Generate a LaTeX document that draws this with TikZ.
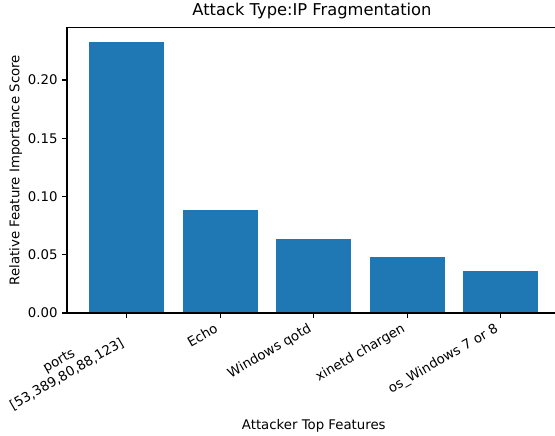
\documentclass[tikz,border=0pt]{standalone}
\usepackage{fontspec}
\setmainfont{DejaVu Sans}
\usepackage{graphicx}
\definecolor{barblue}{HTML}{1F77B4}
\tikzset{
  barfill/.style={fill=barblue, draw=none},
  spine/.style={draw=black, line width=1.05pt, line cap=rect},
  tickmark/.style={draw=black, line width=1.05pt},
  ticklab/.style={inner sep=0pt, font=\fontsize{13.3}{15.8}\selectfont},
  axlab/.style={inner sep=0pt, font=\fontsize{13.3}{15.8}\selectfont},
  titlelab/.style={inner sep=0pt, font=\fontsize{16.3}{19.5}\selectfont},
}
\newcommand{\xlab}[1]{\rotatebox{30}{\hbox{\vphantom{lp}#1}}}
\begin{document}
\begin{tikzpicture}[x=1pt,y=-1pt]
\useasboundingbox (0,0) rectangle (555,436);
% bars
\fill[barfill] (89.4,313) rectangle (164.2,42);
\fill[barfill] (182.9,313) rectangle (257.7,210);
\fill[barfill] (276.4,313) rectangle (351.2,239);
\fill[barfill] (369.9,313) rectangle (444.7,257);
\fill[barfill] (463.4,313) rectangle (538.2,271);
% spines
\coordinate (tl) at (67,27.5);
\coordinate (bl) at (67,313);
\coordinate (br) at (556,313);
\coordinate (tr) at (556,27.5);
\draw[spine] (tr) -- (tl) -- (bl) -- (br);
% y ticks
\foreach \v/\y [count=\i] in {0.00/313,0.05/254.75,0.10/196.5,0.15/138.25,0.20/80}{
  \coordinate (yt\i) at (67,\y);
  \coordinate (yte\i) at (62.4,\y);
  \draw[tickmark] (yt\i) -- (yte\i);
  \node[ticklab, anchor=east] (ylab\i) at (57.8,\y) {\v};
}
% x ticks
\foreach \x [count=\i] in {126.8,220.3,313.8,407.3,500.8}{
  \coordinate (xt\i) at (\x,313);
  \coordinate (xte\i) at (\x,317.6);
  \draw[tickmark] (xt\i) -- (xte\i);
}
\node[ticklab, anchor=north east] (xl1) at (127.3,322.2)
  {\rotatebox{30}{\begin{tabular}{@{}c@{}}ports\\\relax[53,389,80,88,123]\end{tabular}}};
\node[ticklab, anchor=north east] (xl2) at (220.3,322.2) {\xlab{Echo}};
\node[ticklab, anchor=north east] (xl3) at (313.8,322.2) {\xlab{Windows qotd}};
\node[ticklab, anchor=north east] (xl4) at (407.3,322.2) {\xlab{xinetd chargen}};
\node[ticklab, anchor=north east] (xl5) at (500.8,322.2) {\xlab{os\_Windows 7 or 8}};
% labels
\node[titlelab, anchor=base] (title) at (312,16) {Attack Type:IP Fragmentation};
\node[axlab, anchor=base] (xlabel) at (313.8,429) {Attacker Top Features};
\node[axlab, anchor=base, rotate=90] (ylabel) at (19.5,170.2) {Relative Feature Importance Score};
\end{tikzpicture}
\end{document}
